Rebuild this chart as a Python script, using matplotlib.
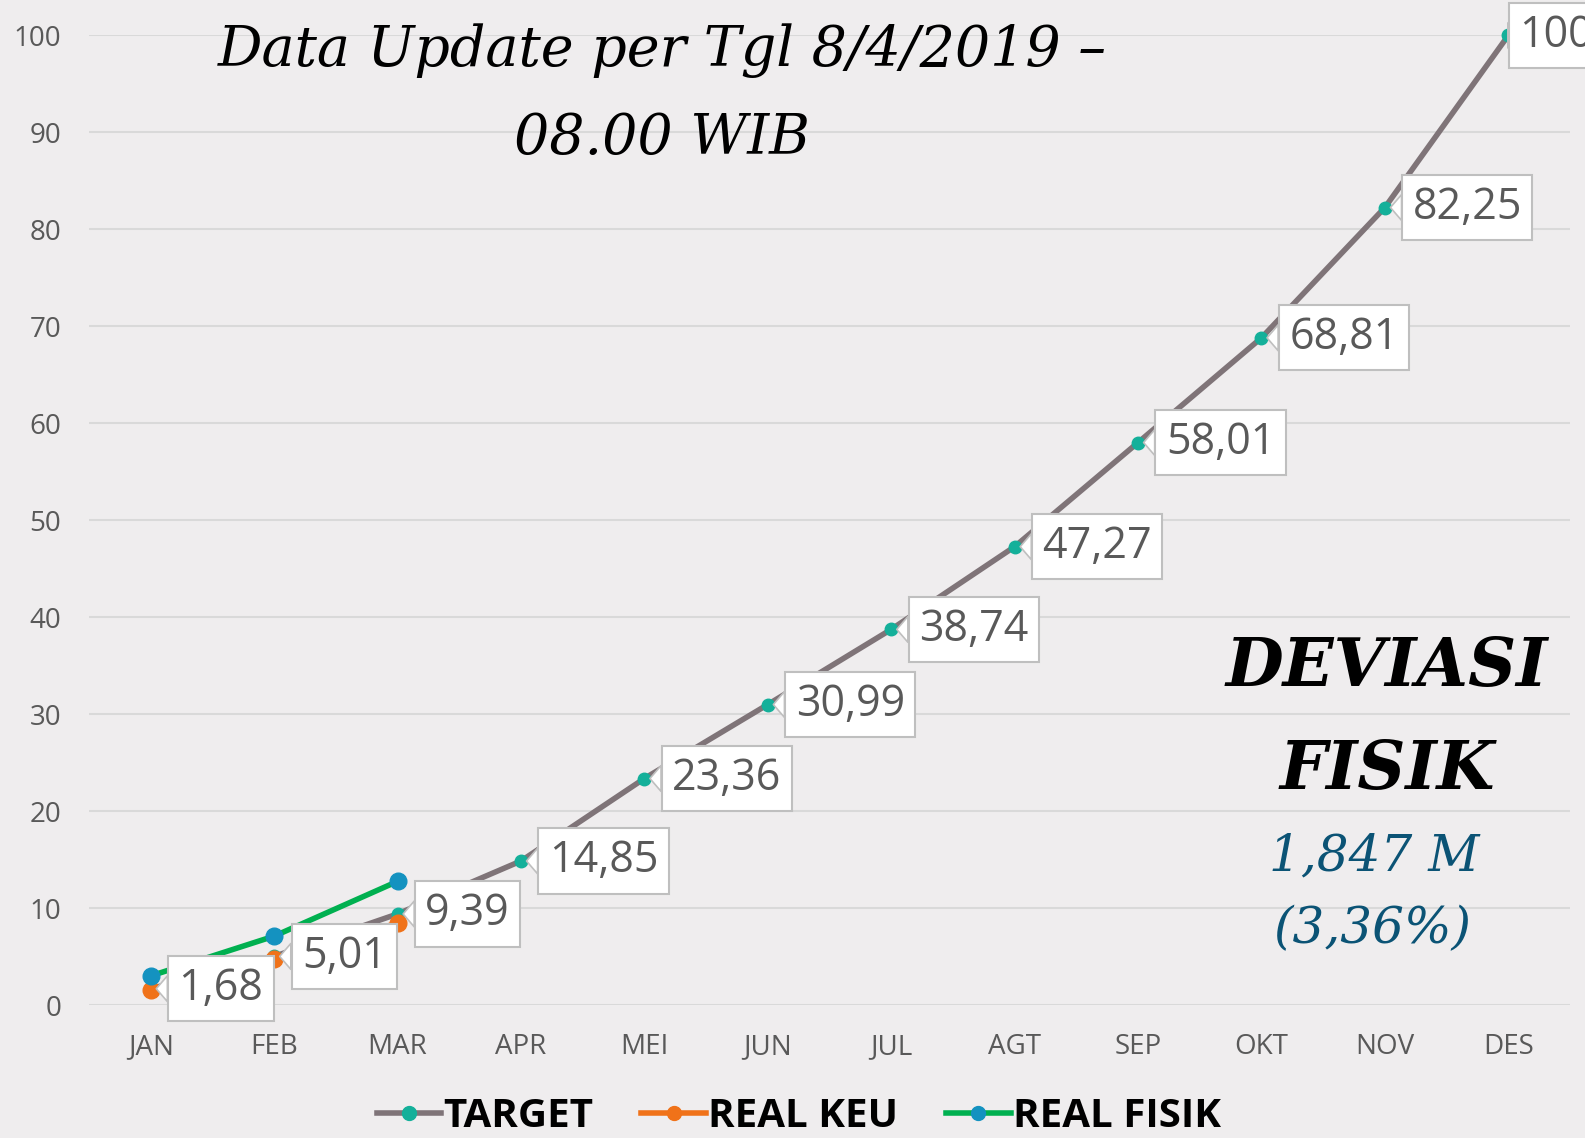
import matplotlib
matplotlib.use("Agg")
import matplotlib.pyplot as plt
from matplotlib.lines import Line2D

months = ["JAN", "FEB", "MAR", "APR", "MEI", "JUN", "JUL", "AGT", "SEP", "OKT", "NOV", "DES"]
target = [1.68, 5.01, 9.39, 14.85, 23.36, 30.99, 38.74, 47.27, 58.01, 68.81, 82.25, 100]
real_keu = [1.55, 4.7, 8.45]
real_fisik = [3.0, 7.1, 12.75]
target_labels = ["1,68", "5,01", "9,39", "14,85", "23,36", "30,99", "38,74", "47,27", "58,01", "68,81", "82,25", "100"]
yticks = [0, 10, 20, 30, 40, 50, 60, 70, 80, 90, 100]

bg = "#EFEDEE"
fig = plt.figure(figsize=(15.85, 11.38), dpi=100, facecolor=bg)
ax = fig.add_axes([89/1585, 1 - 1005/1138, (1570-89)/1585, (1005-35.4)/1138])
ax.set_facecolor(bg)

x = list(range(len(months)))
ax.set_xlim(-0.5, 11.5)
ax.set_ylim(0, 100)
ax.set_yticks(yticks)
ax.set_xticks(x)
ax.set_xticklabels(months)
ax.grid(axis="y", color="#D9D9D9", lw=1.5)
ax.set_axisbelow(True)
for s in ax.spines.values():
    s.set_visible(False)
ax.tick_params(length=0, labelsize=20, labelcolor="#595959")
ax.tick_params(axis="y", pad=20)
ax.tick_params(axis="x", pad=20)
for lab in ax.get_xticklabels() + ax.get_yticklabels():
    lab.set_family("Open Sans")

ax.plot(x, target, color="#7F7478", lw=4, marker="o", ms=9,
        mfc="#14B09A", mec="#14B09A", zorder=3, clip_on=False, solid_capstyle="round")
ax.plot(x[:3], real_keu, color="#F07219", lw=4, marker="o", ms=12,
        mfc="#F07219", mec="#F07219", zorder=4, clip_on=False)
ax.plot(x[:3], real_fisik, color="#00B050", lw=4, marker="o", ms=12,
        mfc="#1492C0", mec="#1492C0", zorder=4, clip_on=False)

n = len(target)
for i, (xi, yi, t) in enumerate(zip(x, target, target_labels)):
    dx = 8 if i == n - 1 else 20
    ax.annotate(t, xy=(xi, yi), xytext=(dx, 0), textcoords="offset points",
                ha="left", va="center", fontsize=31, color="#595959",
                family="Open Sans", zorder=6, annotation_clip=False,
                bbox=dict(boxstyle="square,pad=0.24", fc="white", ec="#BFBFBF", lw=1.5),
                arrowprops=dict(arrowstyle="wedge,tail_width=0.6,shrink_factor=0.5",
                                fc="white", ec="#BFBFBF", lw=1.2, shrinkA=0, shrinkB=4))

fig.text(655/1568, 1 - 50/1126, "Data Update per Tgl 8/4/2019 \u2013", ha="center", va="center",
         fontsize=40, style="italic", family="DejaVu Serif", color="black")
fig.text(655/1568, 1 - 137/1126, "08.00 WIB", ha="center", va="center",
         fontsize=40, style="italic", family="DejaVu Serif", color="black")

fig.text(1372/1568, 1 - 660/1126, "DEVIASI", ha="center", va="center",
         fontsize=48, style="italic", weight="bold", family="DejaVu Serif", color="black")
fig.text(1372/1568, 1 - 762/1126, "FISIK", ha="center", va="center",
         fontsize=48, style="italic", weight="bold", family="DejaVu Serif", color="black")
fig.text(1360/1568, 1 - 848/1126, "1,847 M", ha="center", va="center",
         fontsize=36, style="italic", family="DejaVu Serif", color="#0B5375")
fig.text(1358/1568, 1 - 920/1126, "(3,36%)", ha="center", va="center",
         fontsize=36, style="italic", family="DejaVu Serif", color="#0B5375")

handles = [
    Line2D([], [], color="#7F7478", lw=4, marker="o", ms=10, mfc="#14B09A", mec="#14B09A"),
    Line2D([], [], color="#F07219", lw=4, marker="o", ms=10, mfc="#F07219", mec="#F07219"),
    Line2D([], [], color="#00B050", lw=4, marker="o", ms=10, mfc="#1492C0", mec="#1492C0"),
]
leg = fig.legend(handles, ["TARGET", "REAL KEU", "REAL FISIK"], loc="center",
                 bbox_to_anchor=(790/1568, 1 - 1105/1126), ncol=3, frameon=False,
                 handlelength=1.6, handletextpad=0.05, columnspacing=1.2,
                 prop=dict(family="Open Sans", weight="bold", size=29))

fig.savefig("out.png", dpi=100, facecolor=bg)
